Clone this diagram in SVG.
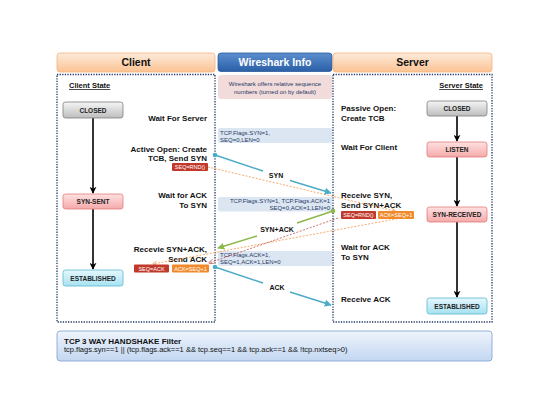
<svg xmlns="http://www.w3.org/2000/svg" width="540" height="405" viewBox="0 0 540 405">
<defs>
<linearGradient id="gHead" x1="0" y1="0" x2="0" y2="1"><stop offset="0" stop-color="#fdebdb"/><stop offset="1" stop-color="#fbc393"/></linearGradient>
<linearGradient id="gBlue" x1="0" y1="0" x2="0" y2="1"><stop offset="0" stop-color="#5b8fd0"/><stop offset="1" stop-color="#2b5fa6"/></linearGradient>
<linearGradient id="gGray" x1="0" y1="0" x2="0" y2="1"><stop offset="0" stop-color="#f5f5f5"/><stop offset="1" stop-color="#bdbdbd"/></linearGradient>
<linearGradient id="gPink" x1="0" y1="0" x2="0" y2="1"><stop offset="0" stop-color="#ffe1e1"/><stop offset="1" stop-color="#f5a9a9"/></linearGradient>
<linearGradient id="gCyan" x1="0" y1="0" x2="0" y2="1"><stop offset="0" stop-color="#e6f8fd"/><stop offset="1" stop-color="#a6e2f1"/></linearGradient>
<linearGradient id="gFilter" x1="0" y1="0" x2="0" y2="1"><stop offset="0" stop-color="#eef4fc"/><stop offset="1" stop-color="#c3d7f1"/></linearGradient>
<marker id="mBlack" viewBox="0 0 10 10" refX="9" refY="5" markerWidth="7" markerHeight="7" markerUnits="userSpaceOnUse" orient="auto"><path d="M0,0 L10,5 L0,10 L3,5 z" fill="#000"/></marker>
<marker id="mBlue" viewBox="0 0 10 10" refX="9" refY="5" markerWidth="7" markerHeight="7" markerUnits="userSpaceOnUse" orient="auto"><path d="M0,0 L10,5 L0,10 z" fill="#4bacc6"/></marker>
<marker id="mGreen" viewBox="0 0 10 10" refX="9" refY="5" markerWidth="7" markerHeight="7" markerUnits="userSpaceOnUse" orient="auto"><path d="M0,0 L10,5 L0,10 z" fill="#8fb84a"/></marker>
<marker id="mOrange" viewBox="0 0 10 10" refX="9" refY="5" markerWidth="5" markerHeight="5" markerUnits="userSpaceOnUse" orient="auto"><path d="M0,0 L10,5 L0,10" fill="none" stroke="#f79646" stroke-width="1.5"/></marker>
<marker id="mRed" viewBox="0 0 10 10" refX="9" refY="5" markerWidth="5" markerHeight="5" markerUnits="userSpaceOnUse" orient="auto"><path d="M0,0 L10,5 L0,10" fill="none" stroke="#c0504d" stroke-width="1.5"/></marker>
</defs>
<style>
text{font-family:"Liberation Sans",Arial,sans-serif;fill:#111}
.hdr{font-size:10.5px;font-weight:bold;text-anchor:middle}
.panel{fill:none;stroke:#1f3864;stroke-width:1.3;stroke-dasharray:1.3 1.3}
.lbl{font-size:8px;font-weight:bold}
.r{text-anchor:end}
.st{font-size:6.5px;font-weight:bold;text-anchor:middle;fill:#222}
.info{font-size:6px;fill:#1f3864}
.tag{font-size:5.5px;fill:#fff;text-anchor:middle}
.flow{stroke:#000;stroke-width:1.6;fill:none}
.conn{font-size:7px;font-weight:bold;text-anchor:middle}
</style>
<rect width="540" height="405" fill="#fff"/>

<g id="client-header"><rect x="57" y="53" width="158" height="19" rx="3" fill="url(#gHead)" stroke="#f7b27e" stroke-width="0.8"/><text class="hdr" x="136" y="66">Client</text></g>
<g id="wireshark-header"><rect x="218" y="53" width="114" height="18.5" rx="3" fill="url(#gBlue)" stroke="#2a5a9a" stroke-width="0.8"/><text class="hdr" x="275" y="66" style="fill:#fff">Wireshark Info</text></g>
<g id="server-header"><rect x="333" y="53" width="159" height="19" rx="3" fill="url(#gHead)" stroke="#f7b27e" stroke-width="0.8"/><text class="hdr" x="412.5" y="66">Server</text></g>

<g id="client-panel"><rect class="panel" x="57" y="74.5" width="158" height="247.5"/></g>
<g id="server-panel"><rect class="panel" x="333" y="74.5" width="159" height="247.5"/></g>

<g id="wireshark-note"><rect x="218" y="75" width="114" height="24" rx="3" fill="#f2dcdb"/><text class="info" x="275" y="86" text-anchor="middle">Wireshark offers relative sequence</text><text class="info" x="275" y="94" text-anchor="middle">numbers (turned on by default)</text></g>
<g id="info-syn"><rect x="218" y="128" width="114" height="15" rx="2" fill="#dce6f2"/><text class="info" x="220" y="134.5">TCP.Flags.SYN=1,</text><text class="info" x="220" y="141.5">SEQ=0,LEN=0</text></g>
<g id="info-synack"><rect x="218" y="197" width="114" height="14.5" rx="2" fill="#dce6f2"/><text class="info" x="330" y="202.5" text-anchor="end">TCP.Flags.SYN=1, TCP.Flags.ACK=1</text><text class="info" x="330" y="209.5" text-anchor="end">SEQ=0,ACK=1,LEN=0</text></g>
<g id="info-ack"><rect x="218" y="251" width="114" height="15" rx="2" fill="#dce6f2"/><text class="info" x="220" y="257">TCP.Flags.ACK=1,</text><text class="info" x="220" y="264">SEQ=1,ACK=1,LEN=0</text></g>

<text class="lbl" x="69" y="88" text-decoration="underline" style="font-size:7.5px">Client State</text>
<text class="lbl" x="483" y="88" text-anchor="end" text-decoration="underline" style="font-size:7.5px">Server State</text>

<g id="client-flow-lines">
<line class="flow" x1="93" y1="118" x2="93" y2="193" marker-end="url(#mBlack)"/>
<line class="flow" x1="93" y1="209" x2="93" y2="269" marker-end="url(#mBlack)"/>
<line class="flow" x1="457" y1="116" x2="457" y2="141" marker-end="url(#mBlack)"/>
<line class="flow" x1="457" y1="157" x2="457" y2="206" marker-end="url(#mBlack)"/>
<line class="flow" x1="457" y1="222" x2="457" y2="297" marker-end="url(#mBlack)"/>
</g>

<g id="c-closed"><rect x="63" y="102" width="60" height="16" rx="2.5" fill="url(#gGray)" stroke="#7f7f7f" stroke-width="0.8"/><text class="st" x="93" y="112.5">CLOSED</text></g>
<g id="c-synsent"><rect x="63" y="194" width="60" height="15" rx="2.5" fill="url(#gPink)" stroke="#e07b7b" stroke-width="0.8"/><text class="st" x="93" y="204">SYN-SENT</text></g>
<g id="c-established"><rect x="63" y="270" width="60" height="16" rx="2.5" fill="url(#gCyan)" stroke="#5bb8d0" stroke-width="0.8"/><text class="st" x="93" y="280.5">ESTABLISHED</text></g>

<g id="s-closed"><rect x="427" y="101" width="60" height="15" rx="2.5" fill="url(#gGray)" stroke="#7f7f7f" stroke-width="0.8"/><text class="st" x="457" y="111">CLOSED</text></g>
<g id="s-listen"><rect x="427" y="142" width="60" height="15" rx="2.5" fill="url(#gPink)" stroke="#e07b7b" stroke-width="0.8"/><text class="st" x="457" y="152">LISTEN</text></g>
<g id="s-synreceived"><rect x="427" y="207" width="60" height="15" rx="2.5" fill="url(#gPink)" stroke="#e07b7b" stroke-width="0.8"/><text class="st" x="457" y="217">SYN-RECEIVED</text></g>
<g id="s-established"><rect x="427" y="298" width="60" height="16" rx="2.5" fill="url(#gCyan)" stroke="#5bb8d0" stroke-width="0.8"/><text class="st" x="457" y="308.5">ESTABLISHED</text></g>

<g id="client-labels">
<text class="lbl r" x="207" y="121">Wait For Server</text>
<text class="lbl r" x="207" y="152">Active Open: Create</text>
<text class="lbl r" x="207" y="161">TCB, Send SYN</text>
<text class="lbl r" x="207" y="198">Wait for ACK</text>
<text class="lbl r" x="207" y="208">To SYN</text>
<text class="lbl r" x="207" y="252">Recevie SYN+ACK,</text>
<text class="lbl r" x="207" y="262">Send ACK</text>
</g>
<g id="server-labels">
<text class="lbl" x="341" y="111">Passive Open:</text>
<text class="lbl" x="341" y="121">Create TCB</text>
<text class="lbl" x="341" y="150">Wait For Client</text>
<text class="lbl" x="341" y="198">Receive SYN,</text>
<text class="lbl" x="341" y="208">Send SYN+ACK</text>
<text class="lbl" x="341" y="250">Wait for ACK</text>
<text class="lbl" x="341" y="260">To SYN</text>
<text class="lbl" x="341" y="302">Receive ACK</text>
</g>

<g id="connectors">
<line x1="208" y1="167" x2="395" y2="211" stroke="#f79646" stroke-width="0.8" stroke-dasharray="2 1.5" marker-end="url(#mOrange)"/>
<line x1="401" y1="218" x2="153" y2="264" stroke="#f79646" stroke-width="0.8" stroke-dasharray="2 1.5" marker-end="url(#mOrange)"/>
<line x1="338" y1="218" x2="209" y2="263" stroke="#c0504d" stroke-width="0.8" stroke-dasharray="2 1.5" marker-end="url(#mRed)"/>

<circle cx="215" cy="155" r="2.3" fill="#4bacc6"/>
<line x1="215" y1="155" x2="263" y2="171" stroke="#4bacc6" stroke-width="1.5"/>
<line x1="290" y1="180.5" x2="331" y2="193" stroke="#4bacc6" stroke-width="1.5" marker-end="url(#mBlue)"/>
<text class="conn" x="276" y="178">SYN</text>

<circle cx="333" cy="211" r="2.3" fill="#8fb84a"/>
<line x1="333" y1="211" x2="297" y2="223" stroke="#8fb84a" stroke-width="1.5"/>
<line x1="257" y1="236" x2="218" y2="248" stroke="#8fb84a" stroke-width="1.5" marker-end="url(#mGreen)"/>
<text class="conn" x="277" y="232">SYN+ACK</text>

<circle cx="215" cy="267" r="2.3" fill="#4bacc6"/>
<line x1="215" y1="267" x2="263" y2="283" stroke="#4bacc6" stroke-width="1.5"/>
<line x1="290" y1="292" x2="331" y2="305" stroke="#4bacc6" stroke-width="1.5" marker-end="url(#mBlue)"/>
<text class="conn" x="277" y="290">ACK</text>
</g>

<g id="tags">
<rect x="172" y="163" width="36" height="8" rx="1" fill="#c0392b"/><text class="tag" x="190" y="169.2">SEQ=RND()</text>
<rect x="341" y="211" width="35" height="8" rx="1" fill="#c0392b"/><text class="tag" x="358.5" y="217.2">SEQ=RND()</text>
<rect x="378" y="211" width="36" height="8" rx="1" fill="#f08a2c"/><text class="tag" x="396" y="217.2">ACK=SEQ+1</text>
<rect x="134" y="264.5" width="35" height="8" rx="1" fill="#c0392b"/><text class="tag" x="151.5" y="270.7">SEQ=ACK</text>
<rect x="172" y="264.5" width="37" height="8" rx="1" fill="#f08a2c"/><text class="tag" x="190.5" y="270.7">ACK=SEQ+1</text>
</g>

<g id="filter"><rect x="57" y="331" width="435" height="30" rx="3" fill="url(#gFilter)" stroke="#7f9fd0" stroke-width="0.8"/>
<text x="64" y="343.5" style="font-size:8px;font-weight:bold">TCP 3 WAY HANDSHAKE Filter</text>
<text x="64" y="352" style="font-size:7.5px">tcp.flags.syn==1 || (tcp.flags.ack==1 &amp;&amp; tcp.seq==1 &amp;&amp; tcp.ack==1 &amp;&amp; !tcp.nxtseq&gt;0)</text></g>
</svg>
